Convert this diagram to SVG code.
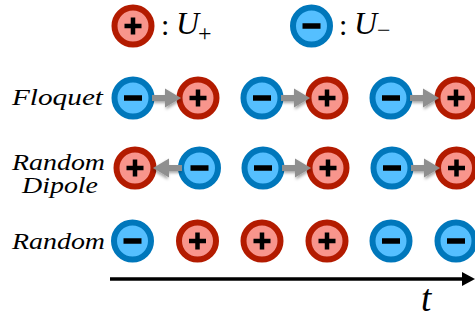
<svg xmlns="http://www.w3.org/2000/svg" width="475" height="321" viewBox="0 0 475 321">
<style>
.p circle{fill:#F8958C;stroke:#B31B00;stroke-width:6}
.m circle{fill:#55BFFF;stroke:#0077BB;stroke-width:6}
.sign{stroke:#000;fill:none;stroke-linecap:butt}
.lbl{font-family:"Liberation Serif",serif;font-style:italic;font-size:23px;fill:#000}
.math{font-family:"Liberation Serif",serif;fill:#000}
.ga{fill:#8f8f8f;filter:url(#sh)}
</style>
<defs>
<filter id="sh" x="-30%" y="-50%" width="160%" height="200%">
<feDropShadow dx="1" dy="2" stdDeviation="1.5" flood-color="#000" flood-opacity="0.35"/>
</filter>
<g id="P" class="p"><circle r="18.5"/><path class="sign" d="M-8.5 0H8.5M0 -8.5V8.5" stroke-width="4.5"/></g>
<g id="M" class="m"><circle r="18.5"/><path class="sign" d="M-9 0H9" stroke-width="5.5"/></g>
<path id="ar" d="M0 -3H13V-9.5L29 0L13 9.5V3H0Z"/>
</defs>

<g id="legend">
<g id="legend-plus"><use href="#P" x="133" y="26"/></g>
<text class="math" x="161" y="35" font-size="30">:</text>
<text class="math" x="176" y="34" font-size="32" font-style="italic">U</text>
<text class="math" x="198" y="41" font-size="24">+</text>
<g id="legend-minus"><use href="#M" x="311.5" y="26"/></g>
<text class="math" x="339" y="35" font-size="30">:</text>
<text class="math" x="354" y="34" font-size="32" font-style="italic">U</text>
<text class="math" x="377" y="38" font-size="24">−</text>
</g>

<g id="labels">
<text class="lbl" x="12" y="105" textLength="91" lengthAdjust="spacingAndGlyphs">Floquet</text>
<text class="lbl" x="12" y="170" textLength="93" lengthAdjust="spacingAndGlyphs">Random</text>
<text class="lbl" x="22" y="193" textLength="76" lengthAdjust="spacingAndGlyphs">Dipole</text>
<text class="lbl" x="12" y="249" textLength="93" lengthAdjust="spacingAndGlyphs">Random</text>
</g>

<g id="n-f1"><use href="#M" x="133" y="98"/></g>
<g id="n-f2"><use href="#P" x="198" y="98"/></g>
<g id="n-f3"><use href="#M" x="262" y="98"/></g>
<g id="n-f4"><use href="#P" x="327" y="98"/></g>
<g id="n-f5"><use href="#M" x="391" y="98"/></g>
<g id="n-f6"><use href="#P" x="456" y="98"/></g>

<g id="n-d1"><use href="#P" x="135" y="168"/></g>
<g id="n-d2"><use href="#M" x="199.5" y="168"/></g>
<g id="n-d3"><use href="#M" x="263" y="168"/></g>
<g id="n-d4"><use href="#P" x="328" y="168"/></g>
<g id="n-d5"><use href="#M" x="392" y="168"/></g>
<g id="n-d6"><use href="#P" x="456.5" y="168"/></g>

<g id="n-r1"><use href="#M" x="132.5" y="241"/></g>
<g id="n-r2"><use href="#P" x="197.5" y="241"/></g>
<g id="n-r3"><use href="#P" x="262" y="241"/></g>
<g id="n-r4"><use href="#P" x="327" y="241"/></g>
<g id="n-r5"><use href="#M" x="391" y="241"/></g>
<g id="n-r6"><use href="#M" x="456" y="241"/></g>

<g id="connectors">
<use class="ga" href="#ar" transform="translate(152 98)"/>
<use class="ga" href="#ar" transform="translate(281 98)"/>
<use class="ga" href="#ar" transform="translate(410 98)"/>
<use class="ga" href="#ar" transform="translate(182 168) scale(-1 1)"/>
<use class="ga" href="#ar" transform="translate(282 168)"/>
<use class="ga" href="#ar" transform="translate(411 168)"/>
<line x1="110" y1="279" x2="464" y2="279" stroke="#000" stroke-width="3.5"/>
<path d="M462 272L475 279L462 286Z" fill="#000"/>
</g>
<text class="math" x="421" y="311" font-size="37" font-style="italic">t</text>
</svg>
